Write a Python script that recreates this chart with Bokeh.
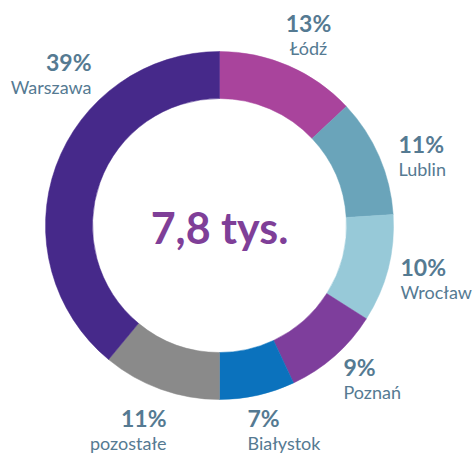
import math
from bokeh.plotting import figure
from bokeh.models import Range1d, ColumnDataSource
from bokeh.core.properties import value
from bokeh.embed import file_html
from bokeh.resources import INLINE

# ---- data ----
cities = ["Łódź", "Lublin", "Wrocław", "Poznań", "Białystok", "pozostałe", "Warszawa"]
shares = [13, 11, 10, 9, 7, 11, 39]
total_label = "7,8 tys."

# ---- styles ----
colors = ["#A9449C", "#6AA4BA", "#97C9D8", "#7E3E9C", "#0B72BD", "#8A8A8A", "#46298A"]
label_color = "#557A92"
center_color = "#7F3F98"
FONT = "Lato"

# ---- layout (picture pixel coords) ----
W, H = 474, 454
CX, CY = 219, 225
R_OUT, R_IN = 174, 127
# label anchors: (x, y of percent, align)
label_layout = [
    (308, 22, "center"),
    (398, 143, "left"),
    (400, 266, "left"),
    (343, 366, "left"),
    (247, 417, "left"),
    (166, 417, "right"),
    (91, 61, "right"),
]
NAME_DY = 25

def ty(y):
    return H - y

p = figure(width=W, height=H, x_range=Range1d(0, W), y_range=Range1d(0, H),
           output_backend="svg", toolbar_location=None, min_border=0)
p.axis.visible = False
p.grid.visible = False
p.outline_line_color = None
p.background_fill_color = "white"
p.border_fill_color = "white"

total = sum(shares)
starts, ends = [], []
cum = 0
for s in shares:
    starts.append(math.pi / 2 - 2 * math.pi * cum / total)
    cum += s
    ends.append(math.pi / 2 - 2 * math.pi * cum / total)

src = ColumnDataSource(dict(start=starts, end=ends, color=colors, city=cities))
p.annular_wedge(x=CX, y=ty(CY), inner_radius=R_IN, outer_radius=R_OUT,
                start_angle="start", end_angle="end", direction="clock",
                fill_color="color", line_color="color", line_width=0.5, source=src)

for city, s, (lx, ly, al) in zip(cities, shares, label_layout):
    p.text(x=[lx], y=[ty(ly)], text=[f"{s}%"], text_align=al, text_baseline="middle",
           text_font=value(FONT), text_font_size="23px", text_font_style="bold",
           text_color=label_color)
    p.text(x=[lx], y=[ty(ly + NAME_DY)], text=[city], text_align=al, text_baseline="middle",
           text_font=value(FONT), text_font_size="18px", text_color=label_color)

p.text(x=[CX], y=[ty(CY + 2)], text=[total_label], text_align="center", text_baseline="middle",
       text_font=value(FONT), text_font_size="43px", text_font_style="bold",
       text_color=center_color)

open("out.html", "w").write(file_html(p, INLINE))
